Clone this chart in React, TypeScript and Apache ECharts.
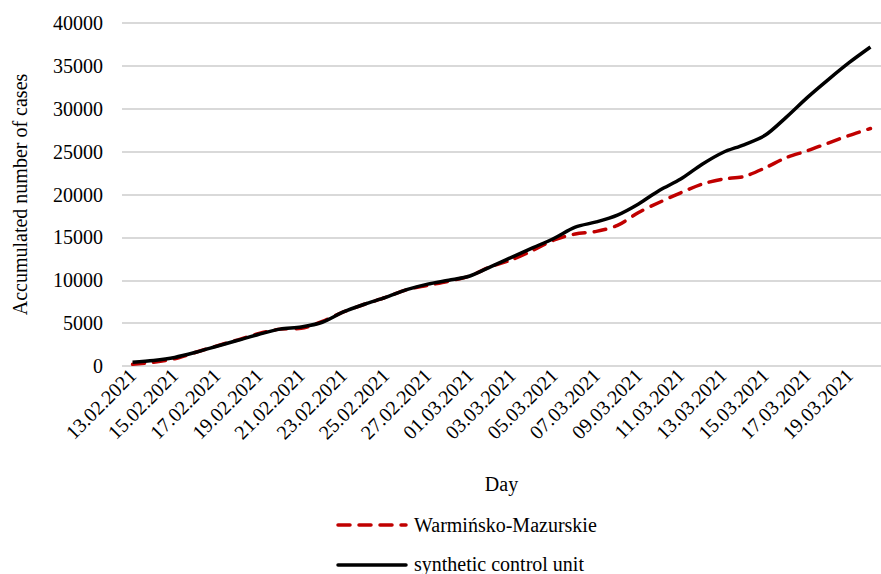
import React, { useEffect, useRef } from "react";
import * as echarts from "echarts";

const days = [
  "13.02.2021", "14.02.2021", "15.02.2021", "16.02.2021", "17.02.2021", "18.02.2021",
  "19.02.2021", "20.02.2021", "21.02.2021", "22.02.2021", "23.02.2021", "24.02.2021",
  "25.02.2021", "26.02.2021", "27.02.2021", "28.02.2021", "01.03.2021", "02.03.2021",
  "03.03.2021", "04.03.2021", "05.03.2021", "06.03.2021", "07.03.2021", "08.03.2021",
  "09.03.2021", "10.03.2021", "11.03.2021", "12.03.2021", "13.03.2021", "14.03.2021",
  "15.03.2021", "16.03.2021", "17.03.2021", "18.03.2021", "19.03.2021", "20.03.2021",
];

const warminskoMazurskie = [
  200, 450, 850, 1600, 2350, 3050, 3800, 4300, 4400, 5200, 6300, 7200,
  8000, 8900, 9400, 9900, 10500, 11600, 12400, 13500, 14700, 15400, 15700, 16400,
  17900, 19100, 20200, 21200, 21800, 22100, 23100, 24300, 25100, 26000, 26900, 27700,
];

const syntheticControl = [
  450, 650, 1000, 1600, 2300, 3000, 3700, 4300, 4550, 5100, 6300, 7200,
  8000, 8900, 9550, 10000, 10500, 11600, 12700, 13800, 14900, 16200, 16800, 17600,
  18900, 20500, 21800, 23500, 24900, 25800, 26900, 29000, 31300, 33400, 35400, 37200,
];

const seriesNames = ["Warmińsko-Mazurskie", "synthetic control unit"];
const seriesColors = ["#c00000", "#000000"];

const FONT = "'Liberation Serif', 'Times New Roman', serif";
const FS = 20;

export default function App() {
  const ref = useRef<HTMLDivElement>(null);
  useEffect(() => {
    if (!ref.current) return;
    const chart = echarts.init(ref.current, undefined, { renderer: "svg" });
    chart.setOption({
      animation: false,
      backgroundColor: "#ffffff",
      textStyle: { fontFamily: FONT, color: "#000" },
      grid: { left: 122, top: 23, width: 767, height: 343, containLabel: false },
      graphic: [
        {
          type: "line",
          shape: { x1: 338, y1: 525, x2: 406, y2: 525 },
          style: { stroke: seriesColors[0], lineWidth: 3.5, lineDash: [12, 9], lineCap: "round" },
        },
        {
          type: "text",
          x: 414,
          y: 525,
          style: {
            text: seriesNames[0],
            font: `${FS}px ${FONT}`,
            fill: "#000",
            verticalAlign: "middle",
            align: "left",
          },
        },
        {
          type: "line",
          shape: { x1: 338, y1: 565, x2: 406, y2: 565 },
          style: { stroke: seriesColors[1], lineWidth: 3.5, lineCap: "round" },
        },
        {
          type: "text",
          x: 414,
          y: 564,
          style: {
            text: seriesNames[1],
            font: `${FS}px ${FONT}`,
            fill: "#000",
            verticalAlign: "middle",
            align: "left",
          },
        },
      ],
      xAxis: {
        type: "category",
        data: days,
        boundaryGap: true,
        name: "Day",
        nameLocation: "middle",
        nameGap: 108,
        nameTextStyle: { fontFamily: FONT, fontSize: FS, color: "#000" },
        axisLine: { show: false },
        axisTick: { show: false },
        axisLabel: {
          interval: 1,
          rotate: 45,
          margin: 6,
          fontFamily: FONT,
          fontSize: FS,
          color: "#000",
        },
        splitLine: { show: false },
      },
      yAxis: {
        type: "value",
        min: 0,
        max: 40000,
        interval: 5000,
        name: "Accumulated number of cases",
        nameLocation: "middle",
        nameGap: 92,
        nameTextStyle: { fontFamily: FONT, fontSize: FS, color: "#000" },
        axisLine: { show: false },
        axisTick: { show: false },
        axisLabel: {
          margin: 19,
          fontFamily: FONT,
          fontSize: FS,
          color: "#000",
          formatter: (v: number) => String(v),
        },
        splitLine: { lineStyle: { color: "#d9d9d9", width: 2 } },
      },
      series: [
        {
          name: seriesNames[0],
          type: "line",
          data: warminskoMazurskie,
          smooth: 0.3,
          symbol: "none",
          color: seriesColors[0],
          lineStyle: { color: seriesColors[0], width: 3.5, type: [12, 9], cap: "round" },
          z: 2,
        },
        {
          name: seriesNames[1],
          type: "line",
          data: syntheticControl,
          smooth: 0.3,
          symbol: "none",
          color: seriesColors[1],
          lineStyle: { color: seriesColors[1], width: 3.5 },
          z: 3,
        },
      ],
    });
    return () => chart.dispose();
  }, []);
  return (
    <div
      ref={ref}
      style={{ position: "fixed", left: 0, top: 0, width: 881, height: 574 }}
    />
  );
}
